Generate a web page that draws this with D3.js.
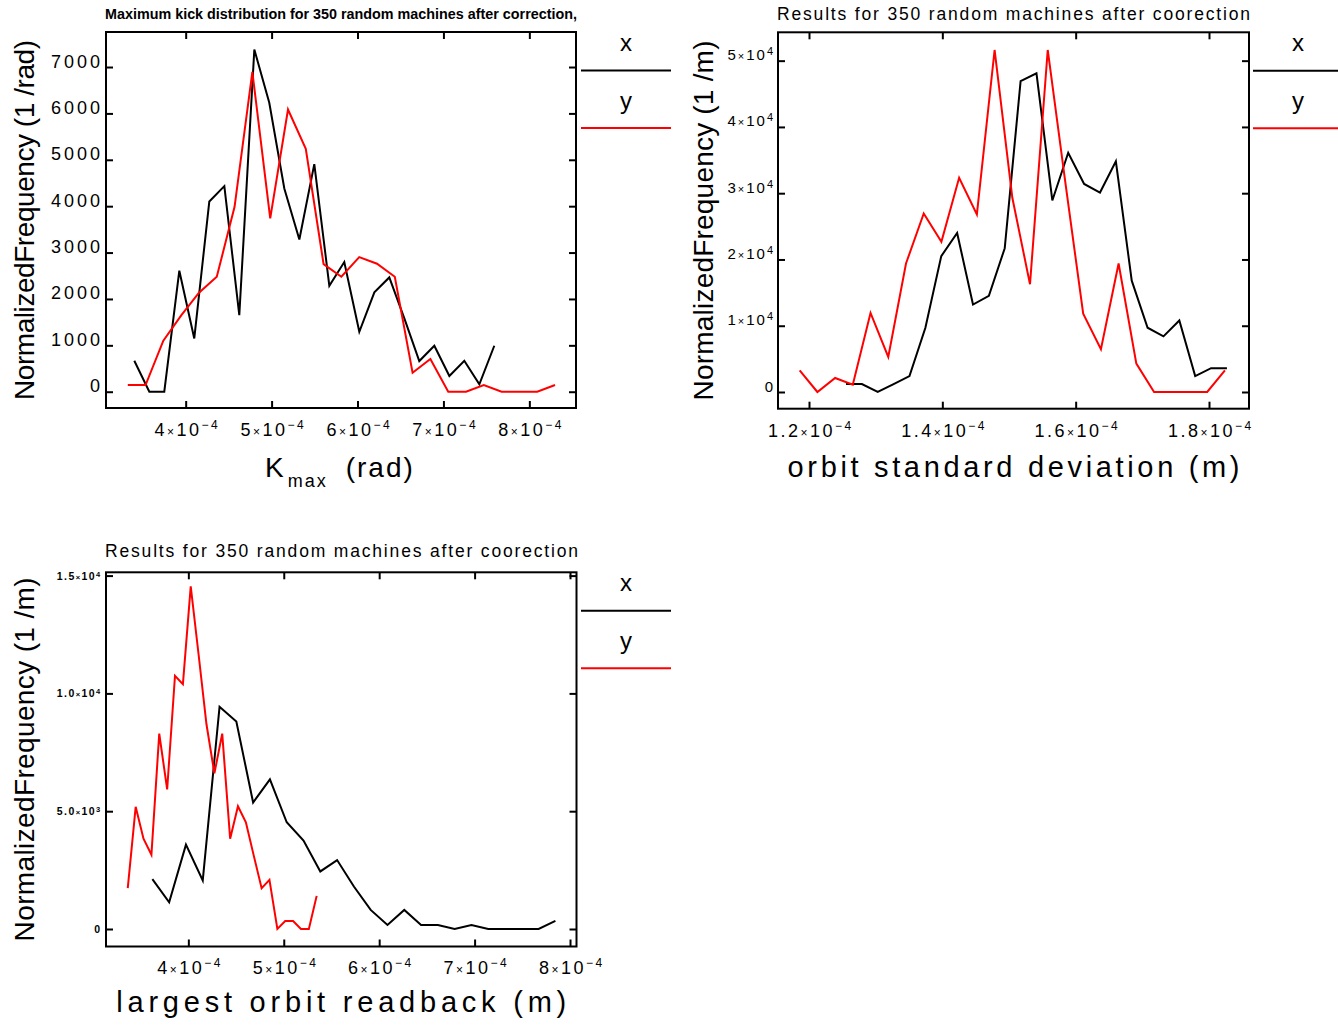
<!DOCTYPE html>
<html><head><meta charset="utf-8">
<script src="https://cdn.jsdelivr.net/npm/d3@7"></script>
<style>body{margin:0;background:#fff}svg{display:block}</style>
</head><body>
<svg id="chart" width="1338" height="1025"></svg>
<script>
// ---------------- data (bin centres in units of 1e-4) ----------------
const kmaxBinX  = [3.402,3.577,3.751,3.926,4.100,4.275,4.450,4.624,4.799,4.973,5.148,5.323,5.497,5.672,5.846,6.021,6.196,6.370,6.545,6.719,6.894,7.069,7.243,7.418,7.592];
const kmaxFreqX = [668,0,0,2608,1149,4102,4432,1652,7378,6228,4382,3283,4907,2284,2795,1293,2141,2464,1580,661,991,338,668,158,991];
const kmaxBinY  = [3.326,3.533,3.740,3.948,4.155,4.362,4.569,4.776,4.984,5.191,5.398,5.605,5.812,6.020,6.227,6.434,6.641,6.848,7.056,7.263,7.470,7.677,7.884,8.092,8.299];
const kmaxFreqY = [144,144,1099,1645,2134,2478,3987,6897,3736,6085,5237,2751,2478,2902,2759,2478,409,704,0,0,144,0,0,0,144];

const stdBinX  = [1.2555,1.2793,1.3031,1.3269,1.3507,1.3746,1.3984,1.4222,1.4460,1.4698,1.4936,1.5174,1.5412,1.5650,1.5888,1.6127,1.6365,1.6603,1.6841,1.7079,1.7317,1.7555,1.7793,1.8031,1.8269];
const stdFreqX = [1200,1200,0,1200,2400,9700,20500,24000,13200,14500,21700,46900,48100,28900,36100,31400,30100,34800,16800,9700,8400,10800,2400,3600,3600];
const stdBinY  = [1.1860,1.2126,1.2392,1.2657,1.2923,1.3189,1.3455,1.3721,1.3986,1.4252,1.4518,1.4784,1.5050,1.5315,1.5581,1.5847,1.6113,1.6379,1.6644,1.6910,1.7176,1.7442,1.7708,1.7973,1.8239];
const stdFreqY = [3270,0,2120,1110,11930,5290,19390,26940,22660,32330,26790,51610,29310,16260,51610,31470,11830,6450,19390,4280,0,0,0,0,3270];

const rbBinX  = [3.623,3.799,3.975,4.151,4.327,4.503,4.679,4.855,5.031,5.207,5.383,5.559,5.735,5.911,6.087,6.263,6.439,6.615,6.791,6.967,7.143,7.319,7.495,7.671,7.847];
const rbFreqX = [2116,1136,3579,2060,9432,8807,5369,6349,4531,3750,2443,2926,1804,810,170,810,170,170,0,170,0,0,0,0,341];
const rbBinY  = [3.365,3.448,3.530,3.613,3.695,3.778,3.860,3.943,4.025,4.108,4.190,4.273,4.355,4.438,4.520,4.603,4.685,4.768,4.850,4.933,5.015,5.098,5.180,5.263,5.345];
const rbFreqY = [1733,5184,3835,3153,8294,5922,10750,10395,14542,11630,8690,6603,8294,3835,5211,4530,3124,1733,2087,0,341,341,0,0,1406];

const seriesNames  = ["x","y"];
const seriesColors = ["#000000","#ff0000"];

// tick values and labels
const kmaxXTicks = [4,5,6,7,8];          const kmaxXMant = ["4","5","6","7","8"];          const kmaxXExp = "\u22124";
const kmaxYTicks = [0,1000,2000,3000,4000,5000,6000,7000];
const kmaxYLabels = ["0","1000","2000","3000","4000","5000","6000","7000"];
const stdXTicks = [1.2,1.4,1.6,1.8];     const stdXMant = ["1.2","1.4","1.6","1.8"];       const stdXExp = "\u22124";
const stdYTicks = [0,10000,20000,30000,40000,50000];
const stdYMant = ["0","1","2","3","4","5"]; const stdYExp = [null,"4","4","4","4","4"];
const rbXTicks = [4,5,6,7,8];            const rbXMant = ["4","5","6","7","8"];            const rbXExp = "\u22124";
const rbYTicks = [0,5000,10000,15000];
const rbYMant = ["0","5.0","1.0","1.5"]; const rbYExp = [null,"3","4","4"];

const titles = [
  "Maximum kick distribution for 350 random machines after correction,",
  "Results for 350 random machines after coorection",
  "Results for 350 random machines after coorection"
];

// ---------------- layout ----------------
const FONT = "'Liberation Sans', Arial, sans-serif";
const svg = d3.select("#chart");

const panels = [
  { frame:{l:106,r:576,t:32,b:408}, xDomain:[3.0726,8.543], yDomain:[-351,7755],
    series:[[kmaxBinX,kmaxFreqX],[kmaxBinY,kmaxFreqY]],
    xTicks:kmaxXTicks, xLab:(i)=>({m:kmaxXMant[i],e:kmaxXExp}),
    yTicks:kmaxYTicks, yLab:(i)=>({m:kmaxYLabels[i],e:null}),
    yStyle:{fs:18,fsS:12,raise:6,ls:3,weight:"normal",pad:3,dy:0},
    xStyle:{fs:18,fsS:12,raise:7,ls:2.5,weight:"normal",off:28},
    title:{text:titles[0], fs:15, weight:"bold", base:18.5, x0:105, len:472, adj:"spacingAndGlyphs"},
    yTitle:{x:34, len:360},
    xTitleKmax:true, xBase:477,
    legendX:581 },
  { frame:{l:778,r:1249,t:32.3,b:408.7}, xDomain:[1.1535,1.86], yDomain:[-2520,54280],
    series:[[stdBinX,stdFreqX],[stdBinY,stdFreqY]],
    xTicks:stdXTicks, xLab:(i)=>({m:stdXMant[i],e:stdXExp}),
    yTicks:stdYTicks, yLab:(i)=>({m:stdYMant[i],e:stdYExp[i]}),
    yStyle:{fs:15,fsS:11,raise:5,ls:2,weight:"normal",pad:3,dy:-1},
    xStyle:{fs:18,fsS:12,raise:7,ls:2.5,weight:"normal",off:28},
    title:{text:titles[1], fs:17.5, weight:"normal", base:20, x0:777, len:473, adj:"spacing"},
    yTitle:{x:713, len:360, unit:"(1 /m)"},
    xTitle:"orbit standard deviation (m)", xTitleLen:452, xBase:477,
    legendX:1253 },
  { frame:{l:106,r:576.5,t:572.3,b:946.5}, xDomain:[3.137,8.068], yDomain:[-743,15140],
    series:[[rbBinX,rbFreqX],[rbBinY,rbFreqY]],
    xTicks:rbXTicks, xLab:(i)=>({m:rbXMant[i],e:rbXExp}),
    yTicks:rbYTicks, yLab:(i)=>({m:rbYMant[i],e:rbYExp[i]}),
    yStyle:{fs:10.5,fsS:7.5,raise:3,ls:1.4,weight:"bold",pad:4.5,dy:3.5},
    xStyle:{fs:18,fsS:12,raise:7,ls:2.5,weight:"normal",off:27},
    title:{text:titles[2], fs:17.5, weight:"normal", base:557, x0:105, len:473, adj:"spacing"},
    yTitle:{x:33.5, len:364, unit:"(1 /m)"},
    xTitle:"largest orbit readback (m)", xTitleLen:450, xBase:1012,
    legendX:581 }
];

function sciLabel(sel, lab, st) {
  const t = sel.append("text")
    .attr("font-family", FONT).attr("font-size", st.fs).attr("font-weight", st.weight)
    .attr("letter-spacing", st.ls).attr("fill", "#000");
  t.append("tspan").text(lab.m);
  if (lab.e) {
    t.append("tspan").attr("font-size", st.fsS).text("\u00d7");
    t.append("tspan").text("10");
    t.append("tspan").attr("font-size", st.fsS).attr("dy", -st.raise).text(lab.e);
  }
  return t;
}

panels.forEach((p) => {
  const f = p.frame;
  const g = svg.append("g");
  const x = d3.scaleLinear().domain(p.xDomain).range([f.l, f.r]);
  const y = d3.scaleLinear().domain(p.yDomain).range([f.b, f.t]);
  const T = 7;

  const axB = g.append("g").attr("transform", `translate(0,${f.b})`)
    .call(d3.axisBottom(x).tickValues(p.xTicks).tickSizeInner(-T).tickSizeOuter(0).tickFormat(""));
  const axT = g.append("g").attr("transform", `translate(0,${f.t})`)
    .call(d3.axisTop(x).tickValues(p.xTicks).tickSizeInner(-T).tickSizeOuter(0).tickFormat(""));
  const axL = g.append("g").attr("transform", `translate(${f.l},0)`)
    .call(d3.axisLeft(y).tickValues(p.yTicks).tickSizeInner(-T).tickSizeOuter(0).tickFormat(""));
  const axR = g.append("g").attr("transform", `translate(${f.r},0)`)
    .call(d3.axisRight(y).tickValues(p.yTicks).tickSizeInner(-T).tickSizeOuter(0).tickFormat(""));
  [axB, axT, axL, axR].forEach(a => {
    a.select(".domain").remove();
    a.selectAll(".tick text").remove();
    a.selectAll(".tick line").attr("stroke", "#000").attr("stroke-width", 2);
  });

  // x tick labels
  axB.selectAll(".tick").each(function(d, i) {
    sciLabel(d3.select(this), p.xLab(i), p.xStyle)
      .attr("text-anchor", "middle").attr("x", p.xStyle.ls / 2).attr("y", p.xStyle.off);
  });
  // y tick labels
  axL.selectAll(".tick").each(function(d, i) {
    sciLabel(d3.select(this), p.yLab(i), p.yStyle)
      .attr("text-anchor", "end").attr("x", -p.yStyle.pad).attr("y", p.yStyle.dy);
  });

  // data lines
  const line = d3.line().x(d => x(d[0])).y(d => y(d[1]));
  p.series.forEach((s, k) => {
    const pts = s[0].map((v, i) => [v, s[1][i]]);
    g.append("path").datum(pts).attr("d", line)
      .attr("fill", "none").attr("stroke", seriesColors[k]).attr("stroke-width", 2)
      .attr("stroke-linejoin", "miter");
  });

  // frame
  g.append("rect").attr("x", f.l).attr("y", f.t).attr("width", f.r - f.l).attr("height", f.b - f.t)
    .attr("fill", "none").attr("stroke", "#000").attr("stroke-width", 2);

  // title
  g.append("text").attr("x", p.title.x0).attr("y", p.title.base)
    .attr("font-family", FONT).attr("font-size", p.title.fs).attr("font-weight", p.title.weight)
    .attr("textLength", p.title.len).attr("lengthAdjust", p.title.adj).text(p.title.text);

  // y title
  const cy = (f.t + f.b) / 2;
  g.append("text").attr("transform", `translate(${p.yTitle.x},${cy}) rotate(-90)`)
    .attr("text-anchor", "middle").attr("font-family", FONT).attr("font-size", 28)
    .attr("textLength", p.yTitle.len).attr("lengthAdjust", "spacing")
    .text("NormalizedFrequency " + (p.yTitle.unit || "(1 /rad)"));

  // x title
  const cx = (f.l + f.r) / 2;
  if (p.xTitleKmax) {
    const t = g.append("text").attr("x", cx - 76).attr("y", p.xBase)
      .attr("font-family", FONT).attr("font-size", 28).attr("letter-spacing", 2);
    t.append("tspan").text("K");
    t.append("tspan").attr("font-size", 18).attr("dx", 2).attr("dy", 10).text("max");
    t.append("tspan").attr("dx", 18).attr("dy", -10).text("(rad)");
  } else {
    g.append("text").attr("x", cx).attr("y", p.xBase).attr("text-anchor", "middle")
      .attr("font-family", FONT).attr("font-size", 29)
      .attr("textLength", p.xTitleLen).attr("lengthAdjust", "spacing").text(p.xTitle);
  }

  // legend
  const lw = 90, lc = p.legendX + lw / 2;
  seriesNames.forEach((nm, k) => {
    const off = k * 57.5;
    g.append("text").attr("x", lc).attr("y", f.t + 19 + off).attr("text-anchor", "middle")
      .attr("font-family", FONT).attr("font-size", 24).text(nm);
    g.append("line").attr("x1", p.legendX).attr("x2", p.legendX + lw)
      .attr("y1", f.t + 38.5 + off).attr("y2", f.t + 38.5 + off)
      .attr("stroke", seriesColors[k]).attr("stroke-width", 2);
  });
});
</script>
</body></html>
